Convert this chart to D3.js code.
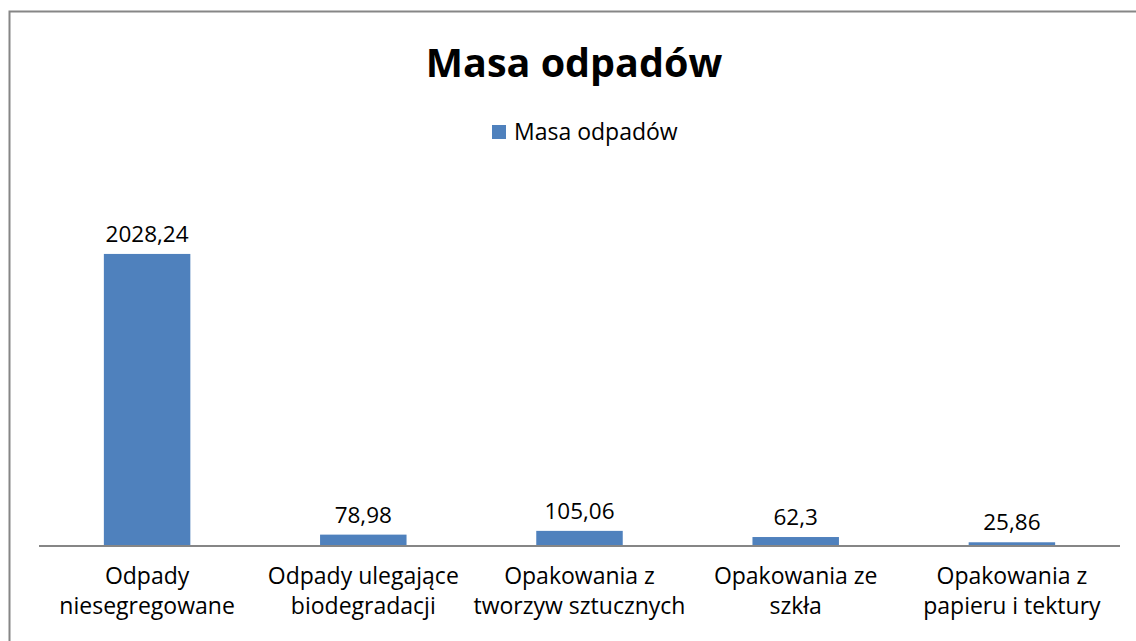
<!DOCTYPE html>
<html>
<head>
<meta charset="utf-8">
<script src="https://cdn.jsdelivr.net/npm/d3@7"></script>
<style>
  body { margin: 0; background: #fff; }
  text { font-family: "Open Sans", "Noto Sans", sans-serif; fill: #000; }
</style>
</head>
<body>
<div id="chart"></div>
<script>
'use strict';
const categories = [
    ["Odpady", "niesegregowane"],
    ["Odpady ulegające", "biodegradacji"],
    ["Opakowania z", "tworzyw sztucznych"],
    ["Opakowania ze", "szkła"],
    ["Opakowania z", "papieru i tektury"]
];
const values = [2028.24, 78.98, 105.06, 62.3, 25.86];
const valueLabels = ["2028,24", "78,98", "105,06", "62,3", "25,86"];
const seriesName = "Masa odpadów";
const chartTitle = "Masa odpadów";

const width = 1136, height = 641;
const barColor = "#4f81bd";
const lineColor = "#868686";

let svg = d3.select("#chart").append("svg")
    .attr("width", width).attr("height", height);

// outer chart frame (runs off the right and bottom edge)
svg.append("rect")
    .attr("x", 9.5).attr("y", 11.5)
    .attr("width", 1140).attr("height", 640)
    .attr("fill", "none").attr("stroke", lineColor).attr("stroke-width", 2);

let keys = categories.map((c, i) => i);
let x = d3.scaleBand().domain(keys).range([39, 1120])
    .paddingInner(0.6).paddingOuter(0.3);
let y = d3.scaleLinear().domain([0, 2500]).range([546, 186]);

// title
svg.append("text")
    .attr("x", 574).attr("y", 77)
    .attr("text-anchor", "middle")
    .style("font-size", "39.5px").style("font-weight", "bold")
    .text(chartTitle);

// legend
let legend = svg.append("g").attr("transform", "translate(492,125)");
legend.append("rect").attr("width", 14).attr("height", 14).attr("fill", barColor);
legend.append("text").attr("x", 22).attr("y", 15)
    .style("font-size", "23px").text(seriesName);

// bars
svg.selectAll("rect.bar").data(values).enter().append("rect")
    .attr("class", "bar")
    .attr("x", (d, i) => x(i))
    .attr("y", d => y(d))
    .attr("width", x.bandwidth())
    .attr("height", d => y(0) - y(d))
    .attr("fill", barColor);

// value labels
svg.selectAll("text.val").data(values).enter().append("text")
    .attr("class", "val")
    .attr("x", (d, i) => x(i) + x.bandwidth() / 2)
    .attr("y", d => y(d) - 12)
    .attr("text-anchor", "middle")
    .style("font-size", "22.5px")
    .text((d, i) => valueLabels[i]);

// category axis
let xAxis = d3.axisBottom(x).tickSize(0).tickFormat("");
let ax = svg.append("g").attr("transform", "translate(0,546)").call(xAxis);
ax.select(".domain").attr("stroke", lineColor).attr("stroke-width", 2)
    .attr("d", "M39,0H1120");

let catLabels = svg.selectAll("text.cat").data(categories).enter().append("text")
    .attr("class", "cat")
    .attr("text-anchor", "middle")
    .style("font-size", "23px");
catLabels.each(function (lines, i) {
    let t = d3.select(this);
    lines.forEach((line, k) => {
        t.append("tspan")
            .attr("x", x(i) + x.bandwidth() / 2)
            .attr("y", 584 + k * 30)
            .text(line);
    });
});
</script>
</body>
</html>
